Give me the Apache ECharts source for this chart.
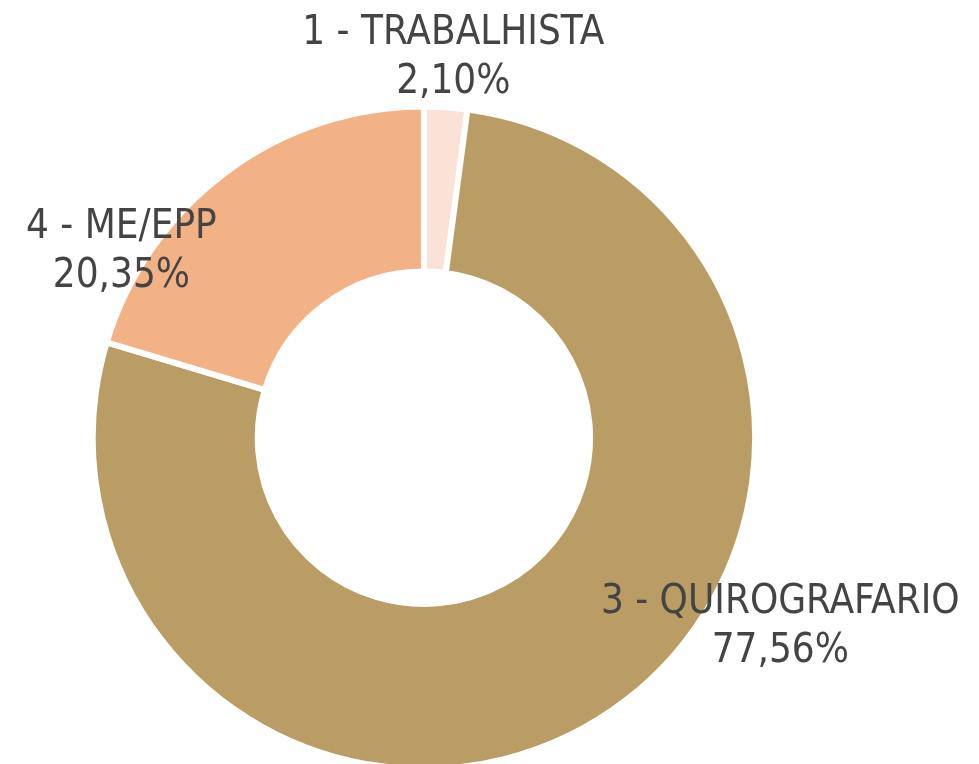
<!DOCTYPE html>
<html>
<head>
<meta charset="utf-8">
<style>
  html, body { margin: 0; padding: 0; background: #fff; }
  #chart-container { width: 979px; height: 764px; }
</style>
<script src="https://cdn.jsdelivr.net/npm/echarts@6/dist/echarts.min.js"></script>
</head>
<body>
<div id="chart-container"></div>
<script>
var categories = ['1 - TRABALHISTA', '3 - QUIROGRAFARIO', '4 - ME/EPP'];
var shares = [2.10, 77.56, 20.35];
var colors = ['#FAE3D6', '#BA9D64', '#F3B186'];

var dom = document.getElementById('chart-container');
var myChart = echarts.init(dom, null, { renderer: 'canvas' });

// label block centres, as a fraction of the chart box
var labelSpots = [[0.463, 0.076], [0.797, 0.821], [0.124, 0.33]];

var option = {
  animation: false,
  series: [
    {
      type: 'pie',
      center: ['43.3%', '57.3%'],
      radius: ['43.5%', '86.7%'],
      startAngle: 90,
      clockwise: true,
      data: categories.map(function (name, i) {
        return { name: name, value: shares[i], itemStyle: { color: colors[i] } };
      }),
      itemStyle: { borderColor: '#fff', borderWidth: 6 },
      emphasis: { disabled: true },
      label: {
        show: true,
        position: 'outside',
        formatter: function (p) {
          return p.name + '\n' + p.value.toFixed(2).replace('.', ',') + '%';
        },
        color: '#444',
        fontFamily: '"DejaVu Sans Condensed", "Liberation Sans Narrow", sans-serif',
        fontSize: 40,
        lineHeight: 49,
        align: 'center',
        overflow: 'none'
      },
      labelLine: { show: false },
      labelLayout: function (params) {
        var s = labelSpots[params.dataIndex];
        return {
          x: s[0] * 979,
          y: s[1] * 764,
          align: 'center',
          verticalAlign: 'middle'
        };
      }
    }
  ]
};

myChart.setOption(option);
window.addEventListener('resize', myChart.resize);
</script>
</body>
</html>
